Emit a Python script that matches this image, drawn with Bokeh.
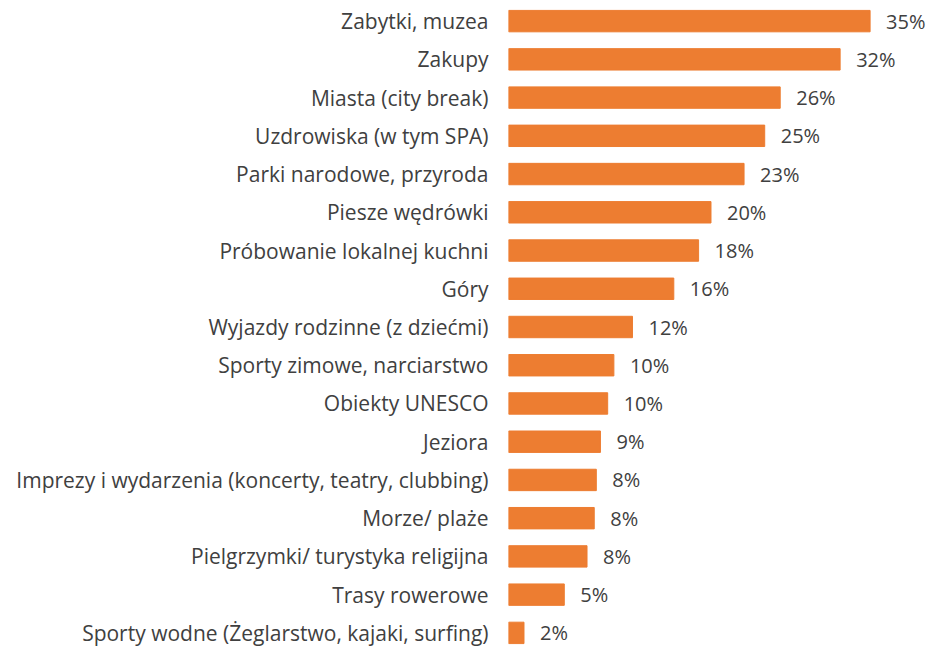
from bokeh.plotting import figure
from bokeh.models import FactorRange, Range1d, ColumnDataSource
from bokeh.embed import file_html
from bokeh.resources import INLINE
from bokeh.core.properties import value

categories = [
    "Zabytki, muzea",
    "Zakupy",
    "Miasta (city break)",
    "Uzdrowiska (w tym SPA)",
    "Parki narodowe, przyroda",
    "Piesze wędrówki",
    "Próbowanie lokalnej kuchni",
    "Góry",
    "Wyjazdy rodzinne (z dziećmi)",
    "Sporty zimowe, narciarstwo",
    "Obiekty UNESCO",
    "Jeziora",
    "Imprezy i wydarzenia (koncerty, teatry, clubbing)",
    "Morze/ plaże",
    "Pielgrzymki/ turystyka religijna",
    "Trasy rowerowe",
    "Sporty wodne (Żeglarstwo, kajaki, surfing)",
]
values = [35.0, 32.1, 26.3, 24.8, 22.8, 19.6, 18.4, 16.0, 12.0, 10.2, 9.6, 8.9, 8.5, 8.3, 7.6, 5.4, 1.5]
value_labels = ["35%", "32%", "26%", "25%", "23%", "20%", "18%", "16%", "12%", "10%",
                "10%", "9%", "8%", "8%", "8%", "5%", "2%"]

FONT = "Open Sans"
TEXT_COLOR = "#404040"

src = ColumnDataSource(dict(cat=categories, val=values, lab=value_labels))

p = figure(
    width=929, height=646,
    y_range=FactorRange(factors=categories[::-1], range_padding=-0.17, range_padding_units="absolute"),
    x_range=Range1d(0, 40.75),
    output_backend="svg", toolbar_location=None,
    min_border_left=508, min_border_right=0, min_border_top=8, min_border_bottom=1,
)

p.hbar(y="cat", left=0, right="val", height=0.56, source=src, color="#ED7D31")
p.text(x="val", y="cat", text="lab", source=src, x_offset=16,
       text_align="left", text_baseline="middle",
       text_font=value(FONT), text_font_size="20px", text_color=TEXT_COLOR)

p.xaxis.visible = False
p.xgrid.grid_line_color = None
p.ygrid.grid_line_color = None
p.outline_line_color = None
p.yaxis.axis_line_color = None
p.yaxis.major_tick_line_color = None
p.yaxis.minor_tick_line_color = None
p.yaxis.major_tick_out = 0
p.yaxis.major_tick_in = 0
p.yaxis.major_label_standoff = 20
p.yaxis.major_label_text_font = FONT
p.yaxis.major_label_text_font_size = "21px"
p.yaxis.major_label_text_color = TEXT_COLOR
p.background_fill_color = "white"
p.border_fill_color = "white"

open("out.html", "w").write(file_html(p, INLINE))
